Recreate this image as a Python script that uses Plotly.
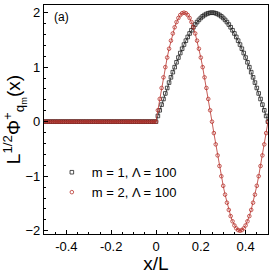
import numpy as np
import plotly.graph_objects as go

# sampling grid x/L (121 samples from -0.5 to 0.5)
x_vals = np.linspace(-0.5, 0.5, 121)

# left half: both wave functions are zero
zeros_left = [0.0] * 60

# right half (x/L = 0 ... 0.5)
m1_right = [0.000, 0.105, 0.209, 0.313, 0.416, 0.518, 0.618, 0.717, 0.813, 0.908,
            1.000, 1.089, 1.176, 1.259, 1.338, 1.414, 1.486, 1.554, 1.618, 1.677,
            1.732, 1.782, 1.827, 1.867, 1.902, 1.932, 1.956, 1.975, 1.989, 1.997,
            2.000, 1.997, 1.989, 1.975, 1.956, 1.932, 1.902, 1.867, 1.827, 1.782,
            1.732, 1.677, 1.618, 1.554, 1.486, 1.414, 1.338, 1.259, 1.176, 1.089,
            1.000, 0.908, 0.813, 0.717, 0.618, 0.518, 0.416, 0.313, 0.209, 0.105,
            0.000]
m2_right = [0.000, 0.209, 0.416, 0.618, 0.813, 1.000, 1.176, 1.338, 1.486, 1.618,
            1.732, 1.827, 1.902, 1.956, 1.989, 2.000, 1.989, 1.956, 1.902, 1.827,
            1.732, 1.618, 1.486, 1.338, 1.176, 1.000, 0.813, 0.618, 0.416, 0.209,
            0.000, -0.209, -0.416, -0.618, -0.813, -1.000, -1.176, -1.338, -1.486, -1.618,
            -1.732, -1.827, -1.902, -1.956, -1.989, -2.000, -1.989, -1.956, -1.902, -1.827,
            -1.732, -1.618, -1.486, -1.338, -1.176, -1.000, -0.813, -0.618, -0.416, -0.209,
            0.000]

y_m1 = zeros_left + m1_right
y_m2 = zeros_left + m2_right

names = ["m = 1, Λ = 100", "m = 2, Λ = 100"]

FONT = "Liberation Sans, Arial, Helvetica, sans-serif"
BLACK = "#222222"
RED = "#b8322c"

fig = go.Figure()
for y, col, sym, nm in [(y_m1, BLACK, "square-open", names[0]),
                        (y_m2, RED, "circle-open", names[1])]:
    fig.add_trace(go.Scatter(
        x=x_vals, y=y, mode="lines", showlegend=False, hoverinfo="skip",
        line=dict(color=col, width=0.8),
    ))
    fig.add_trace(go.Scatter(
        x=x_vals, y=y, mode="markers", name=nm,
        marker=dict(symbol=sym, size=3.6, color=col, line=dict(width=0.8)),
    ))

fig.update_layout(
    width=274, height=274,
    margin=dict(l=43.5, r=5.5, t=5, b=39.5),
    paper_bgcolor="white", plot_bgcolor="white",
    font=dict(family=FONT, color="black", size=13),
    showlegend=True,
    legend=dict(x=0.035, y=0.335, xanchor="left", yanchor="top",
                bgcolor="rgba(0,0,0,0)", font=dict(size=13, family=FONT),
                itemwidth=30, tracegroupgap=0),
    annotations=[dict(text="(a)", x=0.035, y=0.948, xref="paper", yref="paper",
                      xanchor="left", yanchor="middle", showarrow=False,
                      font=dict(size=12, family=FONT))],
)

fig.update_xaxes(
    range=[-0.5, 0.5], tickvals=[-0.4, -0.2, 0, 0.2, 0.4],
    ticktext=["-0.4", "-0.2", "0", "0.2", "0.4"],
    ticks="inside", ticklen=4, tickwidth=1, tickcolor="black",
    minor=dict(dtick=0.05, tick0=0, ticks="inside", ticklen=2, tickcolor="black"),
    showline=True, linecolor="black", linewidth=1.2, mirror=True,
    showgrid=False, zeroline=False,
    tickfont=dict(size=13),
    title=dict(text="x/L", font=dict(size=19), standoff=2),
)
fig.update_yaxes(
    range=[-2.06, 2.14], tickvals=[-2, -1, 0, 1, 2],
    ticks="inside", ticklen=4, tickwidth=1, tickcolor="black",
    minor=dict(dtick=0.2, tick0=0, ticks="inside", ticklen=2, tickcolor="black"),
    showline=True, linecolor="black", linewidth=1.2, mirror=True,
    showgrid=False, zeroline=False,
    tickfont=dict(size=13),
    title=dict(text="L<sup>1/2</sup>Φ<sup>+</sup><sub>q<sub>m</sub></sub>(x)",
               font=dict(size=19), standoff=2),
)

fig.write_html("out.html", config={"displayModeBar": False},
               post_script="document.body.style.margin='0';document.body.style.overflow='hidden';")
